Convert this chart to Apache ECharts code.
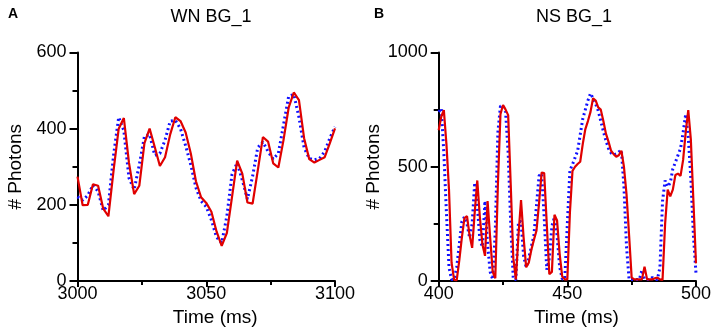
<!DOCTYPE html>
<html>
<head>
<meta charset="utf-8">
<script src="https://cdn.jsdelivr.net/npm/echarts@6/dist/echarts.min.js"></script>
<style>
  html, body { margin: 0; padding: 0; background: #fff; }
  .chart { width: 714px; height: 334px; }
</style>
</head>
<body>
<div class="chart" id="main"></div>
<script>
// panel A : WN BG_1, sampled every 2 ms
const timeA = [3000, 3002, 3004, 3006, 3008, 3010, 3012, 3014, 3016, 3018,
  3020, 3022, 3024, 3026, 3028, 3030, 3032, 3034, 3036, 3038,
  3040, 3042, 3044, 3046, 3048, 3050, 3052, 3054, 3056, 3058,
  3060, 3062, 3064, 3066, 3068, 3070, 3072, 3074, 3076, 3078,
  3080, 3082, 3084, 3086, 3088, 3090, 3092, 3094, 3096, 3098, 3100]
const redA = [274, 199, 200, 254, 250, 190, 170, 290, 400, 428,
  310, 228, 250, 362, 400, 352, 302, 325, 385, 430,
  420, 390, 335, 262, 220, 205, 182, 130, 92, 126,
  220, 316, 282, 206, 203, 290, 378, 366, 309, 298,
  370, 455, 495, 475, 375, 320, 311, 318, 325, 362, 401]
const blueA = [221, 212, 225, 252, 235, 185, 200, 330, 430, 395,
  270, 240, 305, 380, 385, 330, 335, 370, 420, 422,
  400, 355, 305, 245, 210, 195, 160, 115, 100, 170,
  280, 310, 265, 215, 275, 350, 365, 340, 320, 335,
  410, 485, 490, 430, 350, 322, 318, 322, 340, 375, 405]

// panel B : NS BG_1, sampled every 1 ms
const timeB = [400, 401, 402, 403, 404, 405, 406, 407, 408, 409,
  410, 411, 412, 413, 414, 415, 416, 417, 418, 419,
  420, 421, 422, 423, 424, 425, 426, 427, 428, 429,
  430, 431, 432, 433, 434, 435, 436, 437, 438, 439,
  440, 441, 442, 443, 444, 445, 446, 447, 448, 449,
  450, 451, 452, 453, 454, 455, 456, 457, 458, 459,
  460, 461, 462, 463, 464, 465, 466, 467, 468, 469,
  470, 471, 472, 473, 474, 475, 476, 477, 478, 479,
  480, 481, 482, 483, 484, 485, 486, 487, 488, 489,
  490, 491, 492, 493, 494, 495, 496, 497, 498, 499, 500]
const redB = [660, 720, 748, 600, 400, 80, 5, 4, 90, 190,
  275, 284, 200, 145, 300, 440, 280, 160, 110, 350,
  190, 40, 12, 420, 730, 770, 750, 726, 420, 100,
  7, 200, 354, 190, 60, 80, 136, 180, 220, 340,
  474, 472, 250, 30, 40, 290, 265, 120, 20, 7,
  7, 300, 482, 500, 512, 522, 600, 665, 700, 740,
  800, 790, 760, 750, 700, 645, 610, 570, 555, 544,
  550, 570, 500, 380, 200, 15, 7, 7, 7, 7,
  63, 7, 7, 7, 12, 15, 7, 5, 250, 400,
  370, 400, 464, 470, 460, 530, 650, 748, 620, 350, 77]
const blueB = [740, 755, 560, 300, 60, 7, 7, 60, 160, 260,
  281, 250, 190, 250, 430, 330, 180, 150, 350, 160,
  40, 7, 220, 650, 765, 768, 740, 560, 250, 7,
  7, 260, 260, 110, 60, 100, 150, 200, 330, 460,
  471, 280, 50, 100, 240, 280, 200, 63, 10, 7,
  250, 485, 510, 540, 570, 640, 710, 750, 790, 821,
  800, 775, 745, 700, 655, 615, 580, 560, 552, 556,
  565, 573, 413, 150, 7, 7, 7, 7, 7, 48,
  7, 7, 7, 15, 7, 7, 60, 350, 440, 413,
  430, 490, 520, 550, 580, 650, 730, 630, 450, 200, 34]

const FONT = 'Liberation Sans, Arial, sans-serif'

function pairs(xs, ys) {
  return xs.map((x, i) => [x, ys[i]])
}

// 不要千位分隔符
const plain = v => String(v)

// 坐标轴公共样式
function axisStyle(extra) {
  return Object.assign({
    type: 'value',
    axisLine: { show: true, lineStyle: { color: '#000', width: 2 } },
    axisTick: { show: true, length: 6, lineStyle: { color: '#000', width: 2 } },
    minorTick: { show: true, splitNumber: 2, length: 4, lineStyle: { color: '#000', width: 2 } },
    splitLine: { show: false },
    axisLabel: { color: '#000', fontSize: 18, fontFamily: FONT, formatter: plain },
    nameTextStyle: { color: '#000', fontSize: 19, fontFamily: FONT }
  }, extra)
}

function initChart() {
  const chart = echarts.init(document.getElementById('main'))
  const option = {
    animation: false,
    backgroundColor: '#fff',
    title: [
      { text: 'A', left: 3, top: 2, textStyle: { fontSize: 14, fontWeight: 'bold', color: '#000', fontFamily: FONT } },
      { text: 'WN BG_1', left: 206, top: 3, textAlign: 'center', textStyle: { fontSize: 18, fontWeight: 'normal', color: '#000', fontFamily: FONT } },
      { text: 'B', left: 369, top: 2, textStyle: { fontSize: 14, fontWeight: 'bold', color: '#000', fontFamily: FONT } },
      { text: 'NS BG_1', left: 569, top: 3, textAlign: 'center', textStyle: { fontSize: 18, fontWeight: 'normal', color: '#000', fontFamily: FONT } }
    ],
    grid: [
      { left: 77.5, top: 52.5, width: 257.5, height: 228.5 },
      { left: 438.7, top: 52.5, width: 258.3, height: 228.5 }
    ],
    xAxis: [
      axisStyle({ gridIndex: 0, min: 3000, max: 3100, interval: 50, name: 'Time (ms)', nameLocation: 'middle', nameGap: 24,
        axisLabel: { color: '#000', fontSize: 18, fontFamily: FONT, margin: 4, formatter: plain },
        nameTextStyle: { color: '#000', fontSize: 19, fontFamily: FONT, padding: [0, 0, 0, 18] } }),
      axisStyle({ gridIndex: 1, min: 400, max: 500, interval: 50, name: 'Time (ms)', nameLocation: 'middle', nameGap: 24,
        axisLabel: { color: '#000', fontSize: 18, fontFamily: FONT, margin: 4, formatter: plain },
        nameTextStyle: { color: '#000', fontSize: 19, fontFamily: FONT, padding: [0, 0, 0, 18] } })
    ],
    yAxis: [
      axisStyle({ gridIndex: 0, min: 0, max: 600, interval: 200, name: '# Photons', nameLocation: 'middle', nameGap: 52,
        axisTick: { show: true, length: 8, lineStyle: { color: '#000', width: 2 } },
        minorTick: { show: true, splitNumber: 2, length: 5, lineStyle: { color: '#000', width: 2 } },
        axisLabel: { color: '#000', fontSize: 18, fontFamily: FONT, margin: 11, formatter: plain } }),
      axisStyle({ gridIndex: 1, min: 0, max: 1000, interval: 500, name: '# Photons', nameLocation: 'middle', nameGap: 52,
        axisTick: { show: true, length: 8, lineStyle: { color: '#000', width: 2 } },
        minorTick: { show: true, splitNumber: 2, length: 5, lineStyle: { color: '#000', width: 2 } },
        axisLabel: { color: '#000', fontSize: 18, fontFamily: FONT, margin: 11, formatter: plain } })
    ],
    series: [
      // 蓝色点线画在下面
      { type: 'line', xAxisIndex: 0, yAxisIndex: 0, data: pairs(timeA, blueA), showSymbol: false,
        lineStyle: { color: '#1010ff', width: 3, type: [2, 3] } },
      { type: 'line', xAxisIndex: 0, yAxisIndex: 0, data: pairs(timeA, redA), showSymbol: false,
        lineStyle: { color: '#e00000', width: 2.2 } },
      { type: 'line', xAxisIndex: 1, yAxisIndex: 1, data: pairs(timeB, blueB), showSymbol: false,
        lineStyle: { color: '#1010ff', width: 3, type: [2, 3] } },
      { type: 'line', xAxisIndex: 1, yAxisIndex: 1, data: pairs(timeB, redB), showSymbol: false,
        lineStyle: { color: '#e00000', width: 2.2 } }
    ]
  }
  chart.setOption(option)
}

initChart()
</script>
</body>
</html>
